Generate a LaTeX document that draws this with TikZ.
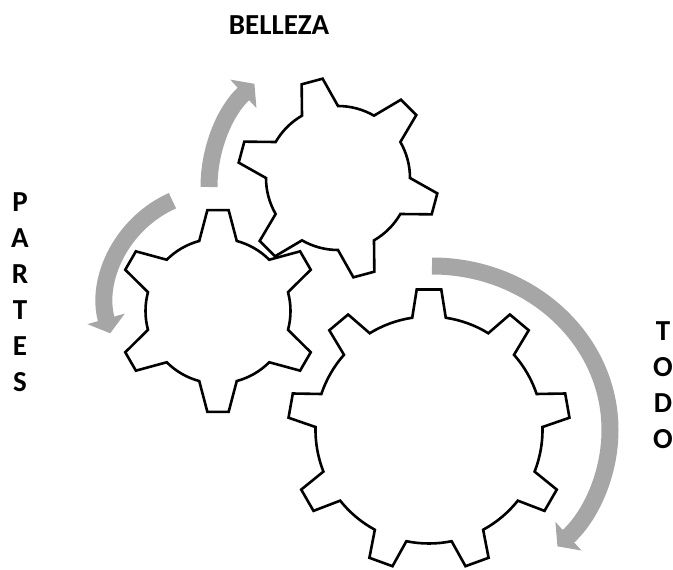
\documentclass[tikz,border=0pt]{standalone}
\usepackage{fontspec}
\setmainfont{Carlito}
\usetikzlibrary{arrows.meta}
\definecolor{ink}{HTML}{000000}
\definecolor{arrowgray}{HTML}{A6A6A6}
\tikzset{x=1pt,y=1pt,
  gearline/.style={draw=ink,line width=2.6pt,line join=miter},
  turn/.style={draw=arrowgray,line width=17pt,-{Triangle[width=38pt,length=15pt]}},
  wordlabel/.style={font=\fontsize{29}{36}\selectfont\bfseries,text=ink,inner sep=0pt}}
% gear: cx, cy, inner r, outer r, teeth, first tooth angle, base half angle, tip half angle
\newcommand{\gear}[8]{%
  \pgfmathsetmacro{\gstep}{360/#5}
  \draw[gearline,shift={(#1,#2)}] ({#6-#7}:#3)
    \foreach \k in {1,...,#5}{
      -- ({#6+(\k-1)*\gstep-#8}:#4) -- ({#6+(\k-1)*\gstep+#8}:#4)
      -- ({#6+(\k-1)*\gstep+#7}:#3)
      arc[start angle={#6+(\k-1)*\gstep+#7},end angle={#6+\k*\gstep-#7},radius=#3]
    } -- cycle;}
\begin{document}
\begin{tikzpicture}
\useasboundingbox (0,0) rectangle (673,-570);
\gear{338}{-178}{72}{100.5}{6}{105}{15}{6.2}
\gear{218}{-311}{72.5}{101.5}{6}{90}{15}{6}
\gear{429}{-430}{113.5}{141}{9}{90}{8.5}{5}
% turning arrows
\draw[turn] ([shift={(180:140)}]349,-187) arc[start angle=180,end angle=132.5,radius=140];
\draw[turn] ([shift={(114:112)}]218,-303) arc[start angle=114,end angle=195.7,radius=112];
\draw[turn] ([shift={(90:178 and 164)}]432,-430) arc[start angle=90,end angle=-45.2,x radius=178,y radius=164];
\node[wordlabel] (belleza) at (279,-25) {BELLEZA};
\node[wordlabel,align=center] (partes) at (20,-292.5) {P\\A\\R\\T\\E\\S};
\node[wordlabel,align=center] (todo) at (663,-385) {T\\O\\D\\O};
\end{tikzpicture}
\end{document}
